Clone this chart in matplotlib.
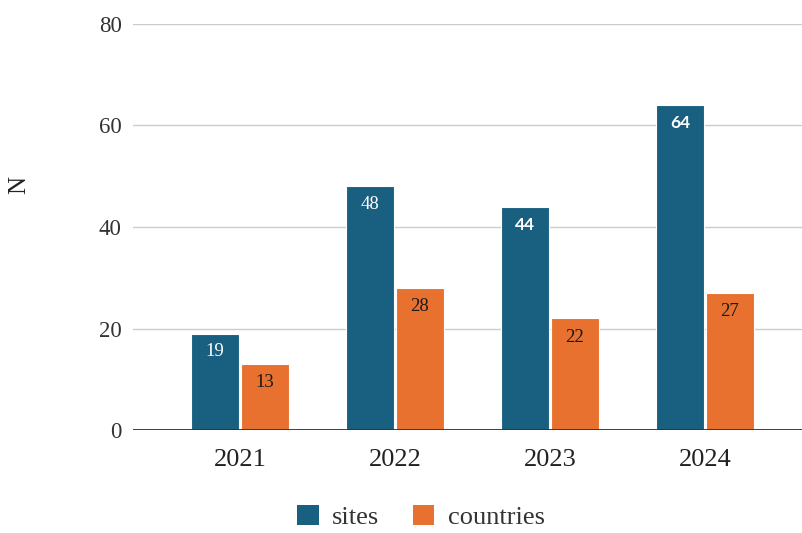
import matplotlib
matplotlib.use("Agg")
import matplotlib.pyplot as plt
from matplotlib.patches import Patch
import numpy as np

plt.rcParams['font.family'] = ['Liberation Serif', 'DejaVu Serif']

years = ["2021", "2022", "2023", "2024"]
sites = [19, 48, 44, 64]
countries = [13, 28, 22, 27]
series_names = ["sites", "countries"]
colors = ["#185f80", "#e8712f"]
y_ticks = [0, 20, 40, 60, 80]

fig = plt.figure(figsize=(8.02, 5.33), dpi=100)
ax = fig.add_axes([0.1658, 0.1932, 0.8342, 0.7618])

x = np.arange(len(years))
width = 0.31
offset = 0.161

bars_s = ax.bar(x - offset, sites, width, color=colors[0], edgecolor="white",
                linewidth=0.8, zorder=3)
bars_c = ax.bar(x + offset, countries, width, color=colors[1], edgecolor="white",
                linewidth=0.8, zorder=3)

# value labels just inside the top of each bar
for b, v in zip(bars_s, sites):
    sans = v in (44, 64)
    fam = ['Lato', 'DejaVu Sans'] if sans else ['Liberation Serif', 'DejaVu Serif']
    ax.annotate(str(v), (b.get_x() + b.get_width() / 2, v), xytext=(0, -13),
                textcoords="offset points", ha="center", va="center",
                color="white", fontsize=12.5 if sans else 13.5, family=fam,
                fontweight="bold" if sans else "normal", zorder=4)
for b, v in zip(bars_c, countries):
    ax.annotate(str(v), (b.get_x() + b.get_width() / 2, v), xytext=(0, -13.5),
                textcoords="offset points", ha="center", va="center",
                color="#1a1a1a", fontsize=13.5, zorder=4)

ax.set_xlim(-0.69, 3.626)
ax.set_ylim(0, 80)
ax.set_yticks(y_ticks)
ax.set_yticklabels([str(t) for t in y_ticks], fontsize=16.5, color="#333333")
ax.set_xticks(x)
ax.set_xticklabels(years, fontsize=19, color="#222222")
ax.tick_params(axis="y", length=0, pad=8)
ax.tick_params(axis="x", length=0, pad=14)

ax.grid(axis="y", color="#cccccc", linewidth=1.0, zorder=0)
ax.axhline(0, color="#333333", linewidth=1.3, zorder=5)
for s in ax.spines.values():
    s.set_visible(False)

ax.set_ylabel("N", fontsize=18, color="#222222")
ax.yaxis.set_label_coords(-0.153, 0.603)

handles = [Patch(facecolor=c, edgecolor="none") for c in colors]
fig.legend(handles, series_names, loc="center", bbox_to_anchor=(0.525, 0.03),
           ncol=2, frameon=False, fontsize=19, handlelength=0.8, handleheight=0.8,
           columnspacing=1.3, handletextpad=0.5, labelcolor="#333333",
           borderpad=0.1)

fig.savefig("out.png", dpi=100)
